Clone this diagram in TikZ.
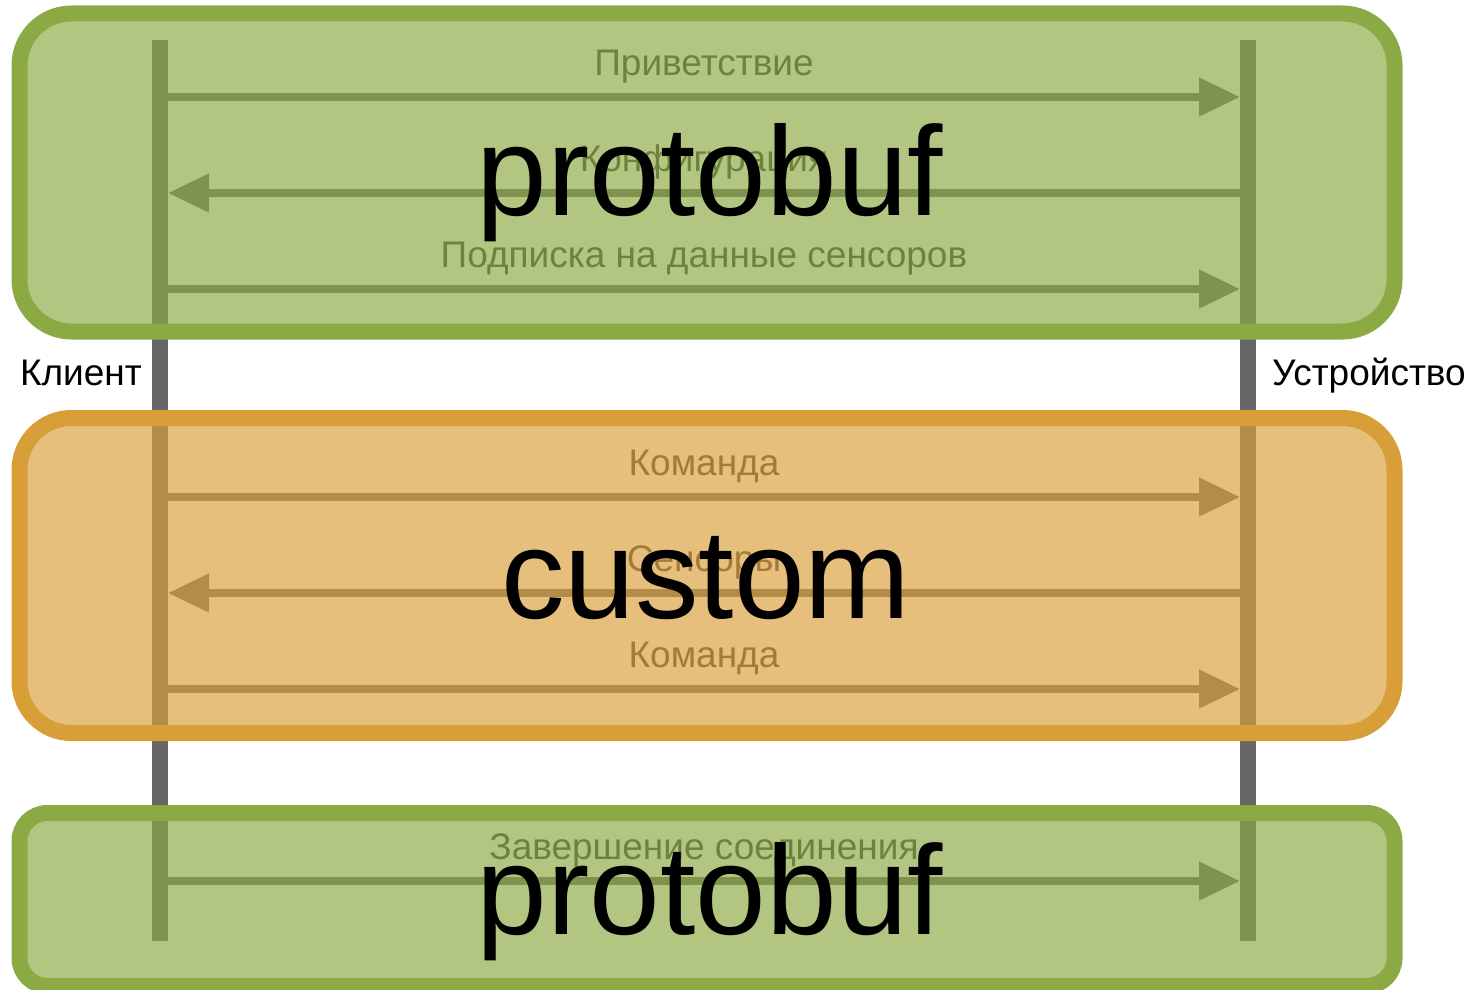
\documentclass[tikz,border=0pt]{standalone}
\usepackage{fontspec}
\setmainfont{Liberation Sans}
\usetikzlibrary{arrows.meta,positioning}
\definecolor{lifegray}{HTML}{666666}
\definecolor{pbgreen}{HTML}{8BAA43}
\definecolor{cuorange}{HTML}{D89F39}
\definecolor{msgtext}{HTML}{333333}
\tikzstyle{lifeline} = [line width=16pt, draw=lifegray]
\tikzstyle{msg} = [line width=8pt, draw=lifegray, -{Triangle[length=41pt,width=37pt]}]
\tikzstyle{msglabel} = [font=\fontsize{37}{44}\selectfont, text=msgtext, anchor=base, inner sep=0pt]
\tikzstyle{actor} = [font=\fontsize{37}{44}\selectfont, inner sep=0pt]
\tikzstyle{phasebox} = [line width=16pt, fill opacity=0.667, rounded corners=52pt]
\tikzstyle{codec} = [font=\fontsize{127}{150}\selectfont, inner sep=0pt, anchor=base]

\begin{document}
\begin{tikzpicture}[x=1pt, y=-1pt]
	\useasboundingbox (0,0) rectangle (1481,990);
	\clip (0,0) rectangle (1481,990);

	% lifelines
	\coordinate (cli-top) at (160,40);
	\coordinate (cli-bot) at (160,941);
	\coordinate (dev-top) at (1248,40);
	\coordinate (dev-bot) at (1248,941);
	\draw[lifeline] (cli-top) -- (cli-bot);
	\draw[lifeline] (dev-top) -- (dev-bot);
	\node[actor, anchor=base east] (client) at (142,385) {Клиент};
	\node[actor, anchor=base west] (device) at (1272,385) {Устройство};

	% messages
	\foreach \i/\y/\dir/\txt in {1/97/r/Приветствие, 2/193/l/Конфигурация,
		3/289/r/Подписка на данные сенсоров, 4/497/r/Команда, 5/593/l/Сенсоры,
		6/689/r/Команда, 7/881/r/Завершение соединения}{
		\coordinate (cli-\i) at (168,\y);
		\coordinate (dev-\i) at (1240,\y);
		\path (cli-\i) -- (dev-\i) node[midway, yshift=22pt, msglabel] (lbl-\i) {\txt};
		\if\dir r
			\draw[msg] (cli-\i) -- (dev-\i);
		\else
			\draw[msg] (dev-\i) -- (cli-\i);
		\fi
	}

	% encoding phases
	\draw[phasebox, draw=pbgreen, fill=pbgreen] (19.5,13.5) rectangle (1394.5,331.5);
	\draw[phasebox, draw=cuorange, fill=cuorange] (19.5,418) rectangle (1394.5,733);
	\draw[phasebox, draw=pbgreen, fill=pbgreen, rounded corners=28pt] (19.5,813) rectangle (1394.5,986);

	\node[codec] (pb-start) at (710,215) {protobuf};
	\node[codec] (custom) at (706,618) {custom};
	\node[codec] (pb-end) at (710,934) {protobuf};
\end{tikzpicture}
\end{document}
